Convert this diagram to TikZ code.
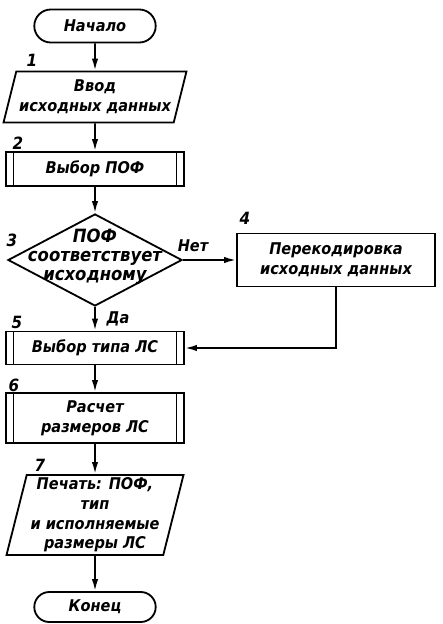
\documentclass[tikz,border=0pt]{standalone}
\usepackage{fontspec}
\setmainfont{DejaVu Sans Condensed}
\usetikzlibrary{shapes.geometric,shapes.misc,arrows.meta}

\tikzset{
  tekst/.style={font=\bfseries\itshape\fontsize{11.5}{14}\selectfont, align=center},
  blok/.style={draw, tekst, inner sep=2pt},
  term/.style={blok, rounded rectangle, minimum width=3.175cm},
  dane/.style={blok, trapezium, trapezium stretches=true, minimum width=4.425cm},
  proc/.style={blok, rectangle, minimum width=#1},
  proc/.default=4.45cm,
  podproc/.style={proc,
    path picture={
      \draw ([xshift=0.19cm]path picture bounding box.north west) --
            ([xshift=0.19cm]path picture bounding box.south west);
      \draw ([xshift=-0.19cm]path picture bounding box.north east) --
            ([xshift=-0.19cm]path picture bounding box.south east);
    }},
  numer/.style={tekst, font=\bfseries\itshape\fontsize{12}{13}\selectfont}
}

\begin{document}
\begin{tikzpicture}[x=0.025cm, y=-0.025cm, line width=1.3pt,
  >={Latex[length=3mm,width=1.6mm]}]

% Ramka rysunku (piksele: 442 x 624)
\useasboundingbox (0,0) rectangle (442,624);

% ---------- Bloki ----------
\node[term, minimum height=0.825cm] (b0) at (95,26) {Начало};
\node[dane, minimum height=1.275cm, trapezium left angle=72,
  trapezium right angle=108] (b1) at (95,97) {Ввод\\исходных данных};
\node[podproc, minimum height=0.85cm] (b2) at (95,169) {Выбор ПОФ};
\node[draw, diamond, inner sep=0pt, minimum width=4.35cm,
  minimum height=2.3cm] (b3) at (95,260) {};
\node[tekst, font=\bfseries\itshape\fontsize{13}{13.5}\selectfont] (t3)
  at ([yshift=0.08cm]b3.center) {ПОФ\\соответствует\\исходному};
\node[proc=4.95cm, minimum height=1.325cm] (b4) at (336,260)
  {Перекодировка\\исходных данных};
\node[podproc, minimum height=0.825cm] (b5) at (95,348) {Выбор типа ЛС};
\node[podproc, minimum height=1.25cm] (b6) at (95,418) {Расчет\\размеров ЛС};
\node[dane, minimum height=2cm, trapezium left angle=76,
  trapezium right angle=104] (b7) at (95,515)
  {Печать: ПОФ,\\тип\\и исполняемые\\размеры ЛС};
\node[term, minimum height=0.75cm] (b8) at (95,607) {Конец};

% ---------- Numery blokow ----------
\foreach \n/\x/\y in {1/32/60, 2/18/143, 3/12/240, 4/245/218,
                      5/17/322, 6/14/385, 7/40/465} {
  \node[numer] (n\n) at (\x,\y) {\n};
}

% ---------- Polaczenia ----------
\draw[->] (b0) -- (b1);
\draw[->] (b1) -- (b2);
\draw[->] (b2) -- (b3);
\draw[->] (b3) -- (b4);
\draw[->] (b3) -- (b5);
\draw[->] (b4.south) |- (b5.east);
\draw[->] (b5) -- (b6);
\draw[->] (b6) -- (b7);
\draw[->] (b7) -- (b8);

% ---------- Etykiety ----------
\node[tekst] (nie) at (193,246) {Нет};
\node[tekst] (tak) at (118,319) {Да};

\end{tikzpicture}
\end{document}
